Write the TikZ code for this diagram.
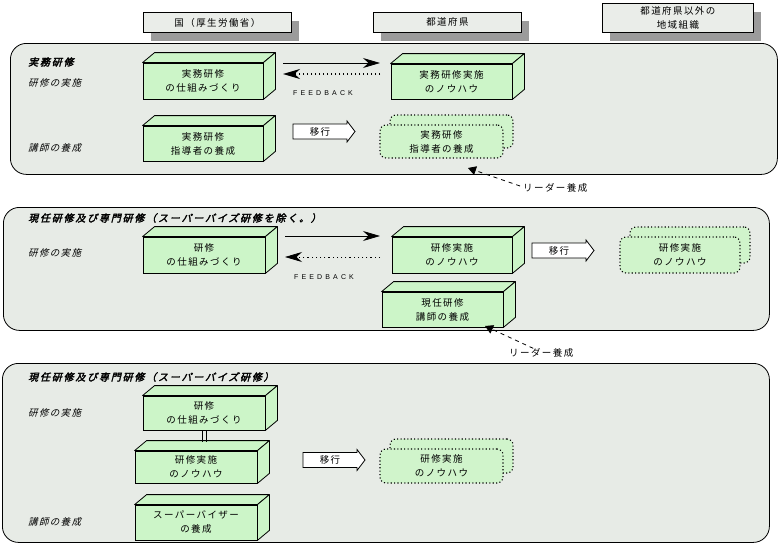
\documentclass[tikz,border=0pt]{standalone}
\usepackage{fontspec}
\usetikzlibrary{arrows.meta,shadows}
\newfontfamily\jp{Noto Sans CJK JP}[LetterSpace=15]
\newfontfamily\jpsl{Noto Sans CJK JP}[FakeSlant=0.25,LetterSpace=14]
\newfontfamily\jpti{Noto Sans CJK JP}[FakeSlant=0.25,FakeBold=2.5,LetterSpace=18]
\newfontfamily\fbk{Liberation Sans}[LetterSpace=45]
\definecolor{secbg}{HTML}{E7EBE6}
\definecolor{boxg}{HTML}{CCF5C8}
\definecolor{dotg}{HTML}{D0F4CB}
\definecolor{hdr}{HTML}{EAEDE9}
\definecolor{shd}{HTML}{9B9B9B}
\tikzset{
  sect/.style={draw, line width=0.8, fill=secbg, rounded corners=16, anchor=north west, inner sep=0},
  hdrbox/.style={draw, line width=0.8, fill=hdr, anchor=north west, inner sep=0, align=center,
    font=\jp\fontsize{9.5}{14}\selectfont,
    drop shadow={shadow xshift=8pt, shadow yshift=-9pt, fill=shd, opacity=1}},
  front/.style={draw, line width=0.8, fill=boxg, inner sep=0, align=center,
    font=\jp\fontsize{9.5}{14}\selectfont},
  face/.style={draw, line width=0.8, fill=boxg, line join=round},
  dotbox/.style={draw, fill=dotg, line width=1.1, dash pattern=on 1.1pt off 2.3pt,
    rounded corners=6, inner sep=0, align=center, font=\jp\fontsize{9.5}{14}\selectfont},
  ttl/.style={anchor=west, inner sep=0, font=\jpti\fontsize{10}{12}\selectfont},
  rowlbl/.style={anchor=west, inner sep=0, font=\jpsl\fontsize{9.5}{12}\selectfont},
  lbl/.style={inner sep=0, font=\jp\fontsize{9.5}{12}\selectfont},
  fbtxt/.style={inner sep=0, font=\fbk\fontsize{7}{9}\selectfont},
  solidarr/.style={line width=0.8, -{Stealth[length=17pt,width=10pt]}},
  fbarr/.style={line width=1.3, dash pattern=on 1.3pt off 2.7pt, -{Stealth[length=17pt,width=10pt]}},
  fbarrthin/.style={line width=0.8, dash pattern=on 1.2pt off 3pt, -{Stealth[length=17pt,width=10pt]}},
  leader/.style={line width=0.8, dash pattern=on 4pt off 4pt, -{Triangle[length=8pt,width=9pt]}},
  movearr/.style={draw, line width=0.8, fill=white, line join=miter},
  link/.style={line width=0.9}
}
\newcommand\cubebox[6]{%
  \node[front, minimum width=#4, minimum height=#5] (#1) at (#2,#3) {#6};
  \filldraw[face] (#1.north west) -- ++(12,-10) -- ([shift={(12,-10)}]#1.north east) -- (#1.north east) -- cycle;
  \filldraw[face] (#1.north east) -- ([shift={(12,-10)}]#1.north east) -- ([shift={(12,-10)}]#1.south east) -- (#1.south east) -- cycle;
}
\newcommand\dotcube[6]{%
  \node[dotbox, minimum width=#4, minimum height=#5] (#1-back) at (#2+10,#3-10) {};
  \node[dotbox, minimum width=#4, minimum height=#5] (#1) at (#2,#3) {#6};
}
\newcommand\movebox[3]{%
  \path[movearr] (#2,#3-7.5) -- (#2+54,#3-7.5) -- (#2+54,#3-10.5) -- (#2+62,#3) -- (#2+54,#3+10.5) -- (#2+54,#3+7.5) -- (#2,#3+7.5) -- cycle;
  \node[lbl] (#1) at (#2+27,#3) {移行};
}
\begin{document}
\begin{tikzpicture}[x=1pt,y=-1pt]
\useasboundingbox (0,0) rectangle (780,546);
\fill[white] (0,0) rectangle (780,546);

% headers
\node[hdrbox, minimum width=148, minimum height=20] (h1) at (143,12) {国（厚生労働省）};
\node[hdrbox, minimum width=148, minimum height=20] (h2) at (373,12) {都道府県};
\node[hdrbox, minimum width=151, minimum height=29] (h3) at (602,3) {都道府県以外の\\地域組織};

% sections
\node[sect, minimum width=767, minimum height=131] (s1) at (10,43) {};
\node[sect, minimum width=766, minimum height=123] (s2) at (3,207) {};
\node[sect, minimum width=767, minimum height=179] (s3) at (2,363) {};

% ---- section 1
\node[ttl] (t1) at (28,62) {実務研修};
\node[rowlbl] (r1a) at (28,83) {研修の実施};
\node[rowlbl] (r1b) at (28,148) {講師の養成};
\cubebox{A}{203}{81}{120}{36}{実務研修\\の仕組みづくり}
\cubebox{C}{451.5}{81.5}{121}{35}{実務研修実施\\のノウハウ}
\cubebox{B}{203}{143.5}{120}{35}{実務研修\\指導者の養成}
\dotcube{D}{441.5}{141.5}{123}{33}{実務研修\\指導者の養成}
\coordinate (a1s) at (283,63);
\coordinate (a1e) at (380,63);
\coordinate (f1s) at (380,74);
\coordinate (f1e) at (283,74);
\draw[solidarr] (a1s) -- (a1e);
\draw[fbarr] (f1s) -- (f1e);
\node[fbtxt] (fb1) at (323,93) {FEEDBACK};
\movebox{m1}{293}{131.5}
\node[lbl, anchor=west] (L1) at (523,188) {リーダー養成};
\coordinate (t1tip) at (468,168);
\draw[leader] ([xshift=-3pt,yshift=2pt]L1.west) -- (t1tip);

% ---- section 2
\node[ttl] (t2) at (28,218) {現任研修及び専門研修（スーパーバイズ研修を除く。）};
\node[rowlbl] (r2a) at (28,253) {研修の実施};
\cubebox{E}{204}{255}{122}{36}{研修\\の仕組みづくり}
\cubebox{F}{452}{255}{120}{36}{研修実施\\のノウハウ}
\cubebox{H}{442.5}{309.5}{121}{35}{現任研修\\講師の養成}
\dotcube{G}{680}{255}{120}{36}{研修実施\\のノウハウ}
\coordinate (a2s) at (285,236);
\coordinate (a2e) at (380,236);
\coordinate (f2s) at (380,257);
\coordinate (f2e) at (285,257);
\draw[solidarr] (a2s) -- (a2e);
\draw[fbarrthin] (f2s) -- (f2e);
\node[fbtxt] (fb2) at (324,277) {FEEDBACK};
\movebox{m2}{532}{250.5}
\node[lbl, anchor=west] (L2) at (509,353) {リーダー養成};
\coordinate (t2tip) at (485,326);
\draw[leader] ([xshift=-8pt]L2.north) -- (t2tip);

% ---- section 3
\node[ttl] (t3) at (28,377) {現任研修及び専門研修（スーパーバイズ研修）};
\node[rowlbl] (r3a) at (28,413) {研修の実施};
\node[rowlbl] (r3b) at (28,522) {講師の養成};
\cubebox{I}{204}{413}{122}{34}{研修\\の仕組みづくり}
\cubebox{J}{196}{467}{122}{32}{研修実施\\のノウハウ}
\cubebox{L}{196}{522.5}{122}{35}{スーパーバイザー\\の養成}
\coordinate (Jtop) at (204,442);
\draw[link] ([xshift=-2pt]I.south) -- ([xshift=-2pt]Jtop);
\draw[link] ([xshift=2pt]I.south) -- ([xshift=2pt]Jtop);
\dotcube{K}{441.5}{466}{123}{34}{研修実施\\のノウハウ}
\movebox{m3}{303}{460}
\end{tikzpicture}
\end{document}
